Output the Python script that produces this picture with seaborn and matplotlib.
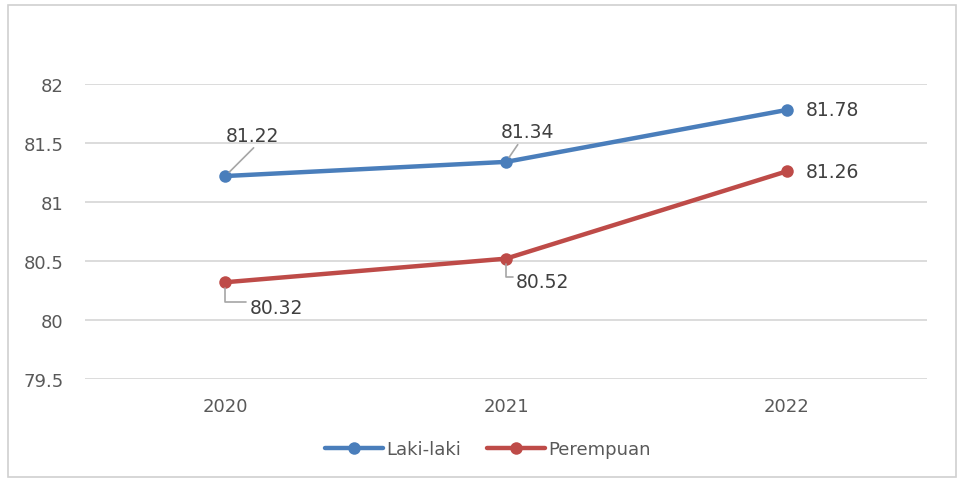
import matplotlib
matplotlib.use("Agg")
import matplotlib.pyplot as plt
from matplotlib.patches import Rectangle
import seaborn as sns
import pandas as pd

years = ["2020", "2021", "2022"]
laki_laki = [81.22, 81.34, 81.78]
perempuan = [80.32, 80.52, 81.26]
series_names = ["Laki-laki", "Perempuan"]
y_ticks = [79.5, 80, 80.5, 81, 81.5, 82]
y_tick_labels = ["79.5", "80", "80.5", "81", "81.5", "82"]

colors = {"Laki-laki": "#4A7EBB", "Perempuan": "#BE4B48"}

df = pd.DataFrame({
    "Tahun": years * 2,
    "Nilai": laki_laki + perempuan,
    "Jenis": [series_names[0]] * 3 + [series_names[1]] * 3,
})

sns.set_theme(style="white")
plt.rcParams["font.family"] = ["DejaVu Sans"]

W, H = 959, 481
fig = plt.figure(figsize=(W / 100, H / 100), dpi=100)
ax = fig.add_axes([85 / W, 1 - 380 / H, 842 / W, 295 / H])

sns.lineplot(data=df, x="Tahun", y="Nilai", hue="Jenis", palette=colors,
             marker="o", markersize=9, markeredgewidth=0, linewidth=3.2,
             ax=ax, legend=False, sort=False)

ax.set_xlim(-0.5, 2.5)
ax.set_ylim(79.5, 82)
ax.set_yticks(y_ticks)
ax.set_yticklabels(y_tick_labels)
ax.set_xlabel("")
ax.set_ylabel("")
ax.grid(axis="y", color="#D9D9D9", linewidth=1.3)
ax.grid(axis="x", visible=False)
ax.set_axisbelow(True)
for s in ax.spines.values():
    s.set_visible(False)
ax.tick_params(axis="both", length=0, labelsize=13, colors="#595959")
ax.tick_params(axis="y", pad=15.5)
ax.tick_params(axis="x", pad=13)

label_kw = dict(fontsize=13.5, color="#404040", textcoords="offset pixels")
leader = dict(arrowstyle="-", color="#A6A6A6", lw=1.2, shrinkA=0, shrinkB=4)

# Laki-laki labels
ax.annotate(f"{laki_laki[0]:.2f}", xy=(0, laki_laki[0]), xytext=(27, 41),
            ha="center", va="center",
            arrowprops=dict(leader, relpos=(0.55, -0.1)), **label_kw)
ax.annotate(f"{laki_laki[1]:.2f}", xy=(1, laki_laki[1]), xytext=(22, 30),
            ha="center", va="center",
            arrowprops=dict(leader, relpos=(0.35, 0.0)), **label_kw)
ax.annotate(f"{laki_laki[2]:.2f}", xy=(2, laki_laki[2]), xytext=(19, 0),
            ha="left", va="center", **label_kw)

# Perempuan labels
elbow = dict(leader, relpos=(0, 0.75), connectionstyle="angle,angleA=0,angleB=90,rad=0")
ax.annotate(f"{perempuan[0]:.2f}", xy=(0, perempuan[0]), xytext=(24, -25),
            ha="left", va="center", arrowprops=elbow, **label_kw)
ax.annotate(f"{perempuan[1]:.2f}", xy=(1, perempuan[1]), xytext=(10, -23),
            ha="left", va="center", arrowprops=elbow, **label_kw)
ax.annotate(f"{perempuan[2]:.2f}", xy=(2, perempuan[2]), xytext=(19, 0),
            ha="left", va="center", **label_kw)

# Legend below the plot
handles = [plt.Line2D([], [], color=colors[n], lw=3.2, marker="o", markersize=9,
                      markeredgewidth=0) for n in series_names]
leg = fig.legend(handles, series_names, loc="center", bbox_to_anchor=(488 / W, 1 - 450 / H),
                 ncol=2, frameon=False, fontsize=13, handlelength=3.2,
                 handletextpad=0.2, columnspacing=1.4)
for t in leg.get_texts():
    t.set_color("#595959")

# Chart outline
fig.patches.append(Rectangle((8 / W, 3 / H), 948 / W, 472 / H, transform=fig.transFigure,
                             fill=False, edgecolor="#D0D0D0", linewidth=1.2))

fig.savefig("out.png", dpi=100)
